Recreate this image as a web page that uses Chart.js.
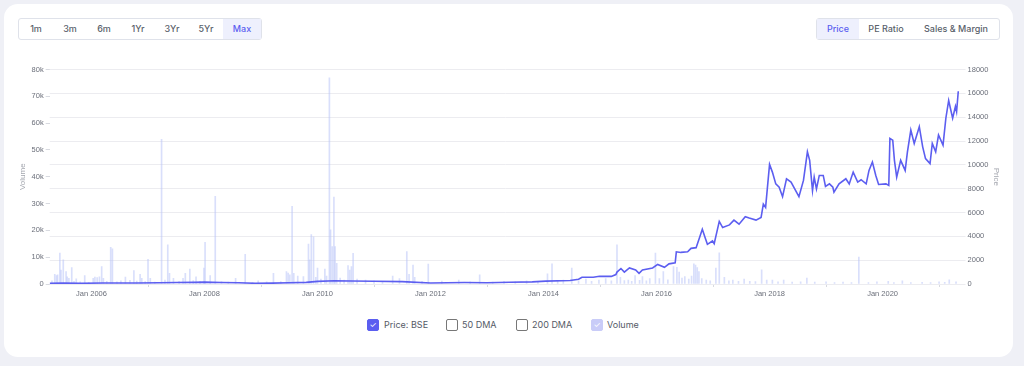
<!DOCTYPE html>
<html>
<head>
<meta charset="utf-8">
<script src="https://cdn.jsdelivr.net/npm/chart.js@4.4.0/dist/chart.umd.min.js"></script>
<style>
  body { margin: 0; background: #eff0f6; width: 1024px; height: 366px; overflow: hidden; font-family: Inter, "Noto Sans", sans-serif; }
  .card { position: absolute; left: 4px; top: 4px; width: 1009px; height: 353px; background: #fff; border-radius: 14px; }
  .btns { position: absolute; top: 14px; display: flex; border: 1px solid #dfe2ea; border-radius: 3px; height: 20px; }
  .btns div { font-size: 9px; font-weight: 500; color: #5a5f6b; line-height: 20px; text-align: center; }
  .btns div.on { background: #eef0fd; color: #5b5ef0; }
  .legend { position: absolute; top: 315px; left: 0; width: 100%; font-size: 9px; color: #555a66; }
  .legend span { position: absolute; top: 0; line-height: 12px; }
  .box { position: absolute; top: 0; width: 10px; height: 10px; border: 1px solid #777; border-radius: 2px; color: #fff; font-size: 8px; line-height: 10px; text-align: center; }
  #chart { position: absolute; left: 6px; top: 59px; }
</style>
</head>
<body>
<div class="card">
  <div class="btns" style="left:14px">
    <div style="width:34px">1m</div><div style="width:34px">3m</div><div style="width:34px">6m</div>
    <div style="width:34px">1Yr</div><div style="width:34px">3Yr</div><div style="width:34px">5Yr</div>
    <div class="on" style="width:38px">Max</div>
  </div>
  <div class="btns" style="left:812px">
    <div class="on" style="width:42px">Price</div><div style="width:54px">PE Ratio</div><div style="width:86px">Sales &amp; Margin</div>
  </div>
  <canvas id="chart" width="1000" height="237"></canvas>
  <div class="legend">
    <div class="box" style="left:363px;background:#5b5ef0;border-color:#5b5ef0">&#10003;</div><span style="left:380px">Price: BSE</span>
    <div class="box" style="left:442px"></div><span style="left:458px">50 DMA</span>
    <div class="box" style="left:512px"></div><span style="left:528px">200 DMA</span>
    <div class="box" style="left:587px;background:#c9ccf8;border-color:#c9ccf8">&#10003;</div><span style="left:603px">Volume</span>
  </div>
</div>
<script>
// price line (decimal year, price)
const priceDates = [2005.26, 2005.5, 2005.8, 2006.2, 2006.5, 2006.8, 2007.2, 2007.5, 2007.8, 2008.0, 2008.3, 2008.6, 2008.9,
  2009.2, 2009.5, 2009.8, 2010.0, 2010.3, 2010.6, 2011.0, 2011.5, 2012.0, 2012.6, 2013.0, 2013.4, 2013.8, 2014.04, 2014.47,
  2014.62, 2014.68, 2014.88, 2014.99, 2015.2, 2015.28, 2015.3, 2015.37, 2015.43, 2015.52, 2015.63, 2015.69, 2015.75, 2015.93,
  2016.02, 2016.14, 2016.22, 2016.33, 2016.35, 2016.43, 2016.55, 2016.61, 2016.7, 2016.76, 2016.81, 2016.86, 2016.9, 2016.99,
  2017.02, 2017.11, 2017.17, 2017.29, 2017.37, 2017.46, 2017.57, 2017.64, 2017.76, 2017.85, 2017.89, 2017.93, 2017.96, 2018.0,
  2018.05, 2018.11, 2018.17, 2018.23, 2018.3, 2018.38, 2018.52, 2018.6, 2018.67, 2018.71, 2018.76, 2018.79, 2018.83, 2018.88,
  2018.95, 2018.99, 2019.06, 2019.12, 2019.14, 2019.23, 2019.35, 2019.41, 2019.48, 2019.56, 2019.62, 2019.71, 2019.76, 2019.82,
  2019.88, 2019.93, 2020.06, 2020.11, 2020.13, 2020.18, 2020.21, 2020.25, 2020.32, 2020.4, 2020.44, 2020.5, 2020.56, 2020.65,
  2020.71, 2020.76, 2020.84, 2020.88, 2020.94, 2020.99, 2021.07, 2021.12, 2021.17, 2021.24, 2021.29, 2021.31, 2021.34]
const priceValues = [60, 70, 60, 80, 90, 80, 100, 120, 140, 160, 130, 100, 60,
  70, 100, 140, 220, 270, 250, 230, 200, 90, 120, 110, 150, 180, 240, 300,
  400, 570, 570, 650, 640, 790, 1000, 1300, 1000, 1350, 1180, 900, 1180, 1350,
  1640, 1400, 1690, 1780, 2700, 2650, 2700, 2990, 3050, 3890, 4600, 3890, 3330, 3610,
  3390, 5250, 4740, 4960, 5360, 5020, 5640, 5530, 5360, 5590, 6710, 6430, 7980, 10040,
  9390, 8400, 8120, 7330, 8830, 8550, 7330, 8690, 11090, 10380, 7840, 8970, 7980, 9110,
  9110, 8180, 8400, 8120, 7700, 8400, 8830, 8400, 9390, 8550, 8750, 8400, 9530, 10240,
  9110, 8350, 8400, 8270, 12210, 12070, 10380, 8970, 10380, 9530, 11090, 12920, 11790, 13200,
  11510, 10520, 10100, 11790, 11090, 12500, 11650, 13910, 15400, 13910, 14900, 14470, 16170]

// volume bars (decimal year, thousands)
const volDates = [2005.3, 2005.35, 2005.38, 2005.4, 2005.44, 2005.46, 2005.5, 2005.55, 2005.57, 2005.6, 2005.65, 2005.69, 2005.73,
  2005.8, 2005.88, 2005.95, 2006.03, 2006.06, 2006.1, 2006.14, 2006.18, 2006.21, 2006.27, 2006.34, 2006.37, 2006.45, 2006.52,
  2006.6, 2006.68, 2006.75, 2006.8, 2006.86, 2006.89, 2006.95, 2007.0, 2007.04, 2007.12, 2007.24, 2007.3, 2007.35, 2007.38,
  2007.45, 2007.55, 2007.62, 2007.66, 2007.74, 2007.8, 2007.85, 2007.92, 2007.99, 2008.01, 2008.1, 2008.19, 2008.3, 2008.42,
  2008.55, 2008.72, 2008.85, 2008.95, 2009.1, 2009.22, 2009.35, 2009.45, 2009.48, 2009.51, 2009.55, 2009.58, 2009.65, 2009.75,
  2009.84, 2009.86, 2009.89, 2009.93, 2009.97, 2010.0, 2010.06, 2010.13, 2010.16, 2010.21, 2010.23, 2010.26, 2010.29, 2010.31,
  2010.34, 2010.4, 2010.47, 2010.54, 2010.57, 2010.6, 2010.63, 2010.7, 2010.85, 2011.0, 2011.15, 2011.33, 2011.45, 2011.58,
  2011.62, 2011.69, 2011.72, 2011.85, 2011.96, 2012.2, 2012.5, 2012.7, 2012.87, 2013.1, 2013.3, 2013.5, 2013.7, 2013.9,
  2014.07, 2014.15, 2014.25, 2014.35, 2014.5, 2014.62, 2014.75, 2014.85, 2014.98, 2015.1, 2015.2, 2015.3, 2015.36, 2015.43,
  2015.5, 2015.56, 2015.62, 2015.7, 2015.75, 2015.82, 2015.88, 2015.98, 2016.05, 2016.12, 2016.2, 2016.3, 2016.36, 2016.4,
  2016.45, 2016.5, 2016.57, 2016.62, 2016.66, 2016.69, 2016.72, 2016.75, 2016.8, 2016.88, 2016.95, 2017.05, 2017.11, 2017.2,
  2017.28, 2017.35, 2017.45, 2017.55, 2017.65, 2017.75, 2017.86, 2017.95, 2018.05, 2018.15, 2018.25, 2018.4, 2018.55, 2018.66,
  2018.8, 2019.0, 2019.15, 2019.3, 2019.45, 2019.58, 2019.75, 2019.9, 2020.1, 2020.2, 2020.35, 2020.5, 2020.7, 2020.85,
  2021.0, 2021.1, 2021.18, 2021.3]
const volValues = [1.2, 3.6, 3.1, 3.4, 11.5, 5.2, 9.0, 4.6, 2.7, 2.1, 6.1, 1.0, 1.9,
  0.8, 3.1, 0.6, 2.1, 2.6, 2.4, 2.7, 6.5, 2.1, 1.0, 13.7, 13.1, 0.8, 1.2,
  2.6, 1.4, 5.0, 1.1, 3.6, 2.1, 0.9, 9.2, 2.1, 0.7, 54.0, 1.5, 14.6, 4.0,
  2.1, 1.0, 2.1, 4.0, 5.6, 1.3, 2.7, 1.0, 5.9, 15.5, 3.1, 32.7, 0.9, 0.7,
  2.1, 11.1, 0.6, 1.2, 0.8, 4.0, 0.9, 4.6, 4.1, 3.4, 29.0, 4.0, 3.0, 2.8,
  14.9, 9.0, 18.4, 17.6, 2.5, 5.9, 1.8, 5.6, 3.0, 76.9, 20.2, 14.0, 32.4, 14.0,
  7.7, 2.2, 1.5, 6.9, 5.2, 6.5, 11.4, 1.8, 1.5, 1.2, 0.9, 3.0, 2.0, 12.1,
  3.6, 7.1, 2.5, 1.0, 7.4, 1.1, 1.5, 0.8, 3.4, 0.7, 1.0, 0.8, 1.2, 0.9,
  3.75, 7.5, 1.0, 1.5, 5.9, 1.2, 1.8, 1.0, 1.5, 2.0, 1.2, 14.6, 2.5, 1.3,
  1.5, 1.0, 3.1, 1.4, 2.75, 1.2, 2.0, 11.5, 2.0, 4.6, 1.6, 6.5, 6.2, 4.4,
  2.2, 2.8, 1.8, 3.0, 7.5, 7.1, 6.1, 4.6, 2.0, 1.5, 1.2, 5.9, 11.6, 2.5,
  1.2, 1.5, 1.0, 1.8, 1.0, 0.9, 5.3, 1.5, 1.5, 0.8, 1.5, 0.7, 0.8, 2.2,
  0.7, 0.8, 0.5, 0.7, 0.5, 10.0, 0.5, 0.8, 1.0, 0.5, 1.2, 0.5, 0.6, 0.5,
  0.8, 0.6, 1.6, 0.8]

const xTicks = [2006, 2008, 2010, 2012, 2014, 2016, 2018, 2020]

const tickFont = { size: 7.5 }
const tickColor = '#6b6f7a'

new Chart('chart', {
  type: 'bar',
  data: {
    datasets: [
      {
        type: 'line',
        label: 'Price: BSE',
        data: priceDates.map((d, i) => ({ x: d, y: priceValues[i] })),
        borderColor: 'rgb(92, 94, 240)',
        borderWidth: 1.6,
        pointRadius: 0,
        tension: 0,
        yAxisID: 'yp',
        order: 0
      },
      {
        label: 'Volume',
        data: volDates.map((d, i) => ({ x: d, y: volValues[i] * 1000 })),
        backgroundColor: 'rgba(186, 196, 248, 0.55)',
        barThickness: 1,
        yAxisID: 'yv',
        order: 1
      }
    ]
  },
  options: {
    responsive: false,
    animation: false,
    devicePixelRatio: 1,
    layout: { padding: { left: 6, right: 8, top: 6, bottom: 0 } },
    plugins: { legend: { display: false }, tooltip: { enabled: false } },
    scales: {
      x: {
        type: 'linear',
        offset: false,
        min: 2005.26,
        max: 2021.38,
        afterBuildTicks: axis => { axis.ticks = xTicks.map(v => ({ value: v })) },
        ticks: { callback: v => 'Jan ' + v, font: tickFont, color: tickColor, maxRotation: 0, padding: 2 },
        grid: { drawOnChartArea: false, tickLength: 3, color: '#d8dae0' },
        border: { display: false }
      },
      yv: {
        position: 'left',
        min: 0,
        max: 80000,
        ticks: { stepSize: 10000, callback: v => v === 0 ? '0' : (v / 1000) + 'k', font: tickFont, color: tickColor, padding: 2 },
        grid: { drawOnChartArea: false, tickLength: 4, color: '#d8dae0' },
        border: { display: false },
        title: { display: true, text: 'Volume', color: '#a3a6ae', font: { size: 8 }, padding: 2 }
      },
      yp: {
        position: 'right',
        min: 0,
        max: 18000,
        ticks: { stepSize: 2000, callback: v => String(v), font: tickFont, color: tickColor, padding: 2 },
        grid: { color: '#ececf0', tickLength: 5 },
        border: { display: false },
        title: { display: true, text: 'Price', color: '#a3a6ae', font: { size: 8 }, padding: 1 }
      }
    }
  }
})
</script>
</body>
</html>
